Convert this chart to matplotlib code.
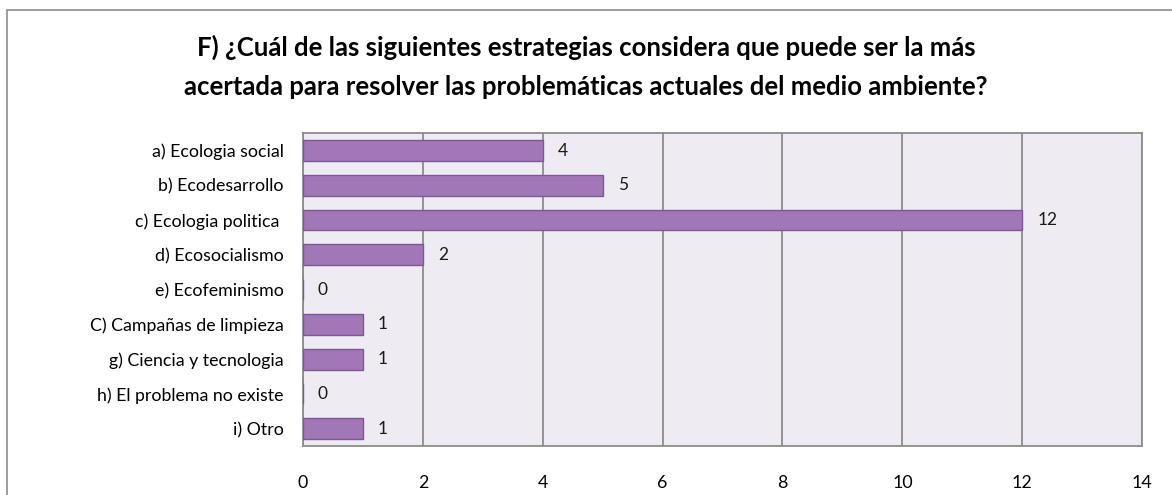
import matplotlib.pyplot as plt
from matplotlib.patches import Rectangle

categorias = [
    "a) Ecologia social",
    "b) Ecodesarrollo",
    "c) Ecologia politica ",
    "d) Ecosocialismo",
    "e) Ecofeminismo",
    "C) Campañas de limpieza",
    "g) Ciencia y tecnologia",
    "h) El problema no existe",
    "i) Otro",
]
respuestas = [4, 5, 12, 2, 0, 1, 1, 0, 1]
ticks_x = [0, 2, 4, 6, 8, 10, 12, 14]

titulo = ("F) ¿Cuál de las siguientes estrategias considera que puede ser la más\n"
          "acertada para resolver las problemáticas actuales del medio ambiente?")

plt.rcParams["font.family"] = ["Lato", "DejaVu Sans"]

fig = plt.figure(figsize=(11.72, 4.95), dpi=100)
fig.patches.append(Rectangle((0.006, -0.01), 1.1, 0.99, transform=fig.transFigure,
                             fill=False, edgecolor="#8c8c8c", linewidth=1.2))

ax = fig.add_axes([0.2585, 0.099, 0.716, 0.632])
ax.set_facecolor("#eeebf2")

pos = list(range(len(categorias)))
ax.barh(pos, respuestas, height=0.6, color="#a277b8", edgecolor="#7d5796",
        linewidth=1.0, zorder=3)

for y, v in zip(pos, respuestas):
    ax.text(v + 0.25, y, str(v), va="center", ha="left", fontsize=12.5,
            color="#1a1a1a", zorder=4)

ax.set_xlim(0, 14)
ax.set_ylim(len(categorias) - 0.5, -0.5)
ax.set_xticks(ticks_x)
ax.set_yticks(pos)
ax.set_yticklabels(categorias, fontsize=12.8)
ax.tick_params(axis="x", length=0, pad=21, labelsize=12.8)
ax.tick_params(axis="y", length=0, pad=14)
ax.xaxis.grid(True, color="#8c8c8c", linewidth=1.3, zorder=1)
ax.set_axisbelow(True)
for s in ax.spines.values():
    s.set_color("#8c8c8c")
    s.set_linewidth(1.3)

fig.text(0.5, 0.864, titulo, ha="center", va="center", fontsize=18.5,
         fontweight="bold", linespacing=1.75)

fig.savefig("out.png", dpi=100)
